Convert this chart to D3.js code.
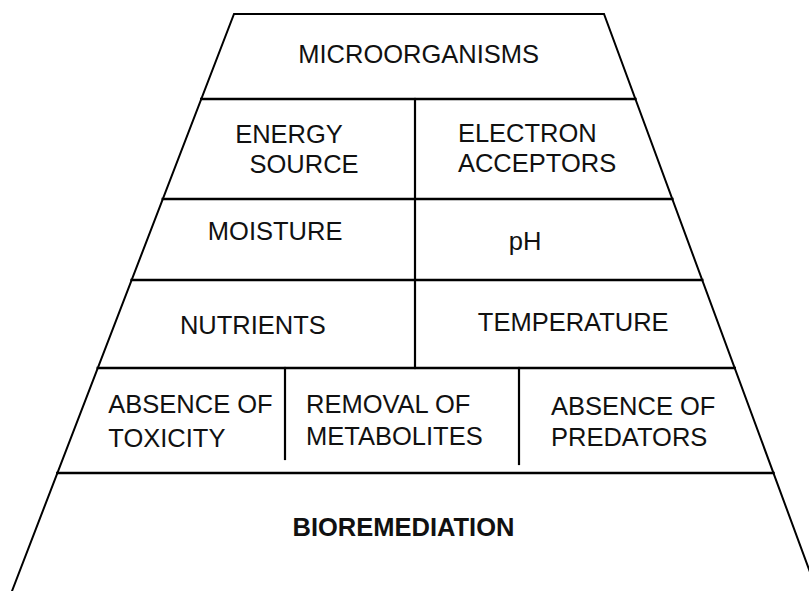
<!DOCTYPE html>
<html lang="en">
<head>
<meta charset="UTF-8">
<script src="https://cdn.jsdelivr.net/npm/d3@7/dist/d3.min.js"></script>
<title>Bioremediation pyramid</title>
<style>
	html, body { margin: 0; padding: 0; background: #fff; }
	svg { display: block; }
	.edge { fill: none; stroke: #000; stroke-linecap: square; }
	.lbl { font-family: "Liberation Sans", Arial, Helvetica, sans-serif; font-size: 25.5px; fill: #111; }
	.bold { font-weight: bold; }
</style>
</head>
<body>
<div id="container"></div>
<script>
	// tiers of the pyramid, top to bottom; "\n" splits a label over two lines
	const tierTop = ['MICROORGANISMS'];
	const tierTwo = ['ENERGY\nSOURCE', 'ELECTRON\nACCEPTORS'];
	const tierThree = ['MOISTURE', 'pH'];
	const tierFour = ['NUTRIENTS', 'TEMPERATURE'];
	const tierFive = ['ABSENCE OF\nTOXICITY', 'REMOVAL OF\nMETABOLITES', 'ABSENCE OF\nPREDATORS'];
	const tierBase = ['BIOREMEDIATION'];
	const tiers = [tierTop, tierTwo, tierThree, tierFour, tierFive, tierBase];

	// layout
	const width = 809,
		height = 591,
		fontSize = 25.5,
		capH = fontSize * 0.716,
		lineH = 30;

	const rowEdges = [14, 99, 199, 280, 368, 473, 591];       // y of each band edge
	const splits = [[], [415], [415], [415], [285, 519], []];  // x of inner dividers
	const splitEnds = [[], [199], [280], [368], [459, 464], []]; // where dividers stop
	// per cell: anchor, dx/dy from cell centre, extra line gap
	const place = [
		[{a: 'middle', dx: 0, dy: -3}],
		[{a: 'middle', dx: [-9.5, 5.5], dy: 0}, {a: 'start', dx: -76.5, dy: -1}],
		[{a: 'middle', dx: -6, dy: -8.5}, {a: 'middle', dx: -26, dy: 1.5}],
		[{a: 'middle', dx: -12, dy: 1}, {a: 'middle', dx: 6.5, dy: -2}],
		[{a: 'start', dx: -73, dy: 0, lh: 34}, {a: 'start', dx: -96, dy: -1, lh: 32}, {a: 'start', dx: -85.5, dy: 1, lh: 31}],
		[{a: 'middle', dx: -11.5, dy: -5, bold: true}]
	];

	// the two slanted sides as linear scales of y
	const leftSide = d3.scaleLinear().domain([14, 591]).range([234, 12]);
	const rightSide = d3.scaleLinear().domain([14, 591]).range([604, 817]);

	const svg = d3.select('#container')
		.append('svg')
		.attr('width', width)
		.attr('height', height);

	const line = d3.line();

	// outline: top edge and both sides
	svg.append('path')
		.attr('class', 'edge')
		.attr('stroke-width', 2)
		.attr('stroke-linejoin', 'miter')
		.attr('d', line([
			[leftSide(591), 591], [leftSide(14), 14],
			[rightSide(14), 14], [rightSide(591), 591]
		]));

	// horizontal band edges
	svg.selectAll('line.band')
		.data(rowEdges.slice(1, -1))
		.enter().append('line')
		.attr('class', 'edge band')
		.attr('stroke-width', 2.6)
		.attr('x1', d => leftSide(d))
		.attr('x2', d => rightSide(d))
		.attr('y1', d => d)
		.attr('y2', d => d);

	// inner dividers
	tiers.forEach((tier, i) => {
		splits[i].forEach((x, j) => {
			svg.append('line')
				.attr('class', 'edge')
				.attr('stroke-width', 2.2)
				.attr('x1', x).attr('x2', x)
				.attr('y1', rowEdges[i]).attr('y2', splitEnds[i][j]);
		});
	});

	// labels
	tiers.forEach((tier, i) => {
		const y0 = rowEdges[i], y1 = rowEdges[i + 1];
		const cy = (y0 + y1) / 2;
		const xs = [leftSide(cy)].concat(splits[i], [rightSide(cy)]);
		tier.forEach((label, j) => {
			const p = place[i][j];
			const cx = (xs[j] + xs[j + 1]) / 2;
			const rows = label.split('\n');
			const lh = p.lh || lineH;
			const t = svg.append('text')
				.attr('class', 'lbl' + (p.bold ? ' bold' : ''))
				.attr('text-anchor', p.a);
			rows.forEach((r, k) => {
				const dx = Array.isArray(p.dx) ? p.dx[k] : p.dx;
				t.append('tspan')
					.attr('x', cx + dx)
					.attr('y', cy + p.dy + capH / 2 + (k - (rows.length - 1) / 2) * lh)
					.text(r);
			});
		});
	});
</script>
</body>
</html>
